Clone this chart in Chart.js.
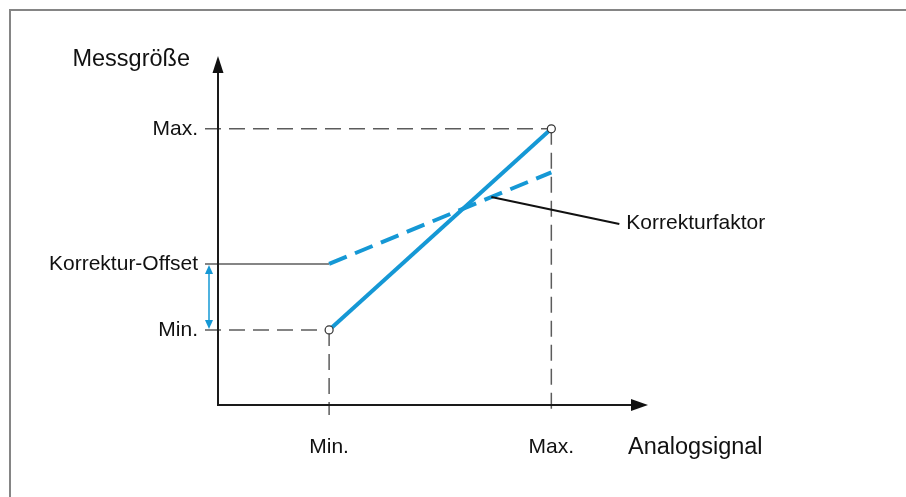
<!DOCTYPE html>
<html lang="de">
<head>
<meta charset="utf-8">
<title>Korrektur Analogsignal</title>
<script src="https://cdn.jsdelivr.net/npm/chart.js@4.4.1/dist/chart.umd.min.js"></script>
<style>
  html, body { margin: 0; padding: 0; background: #fff; }
  #wrap { position: relative; width: 906px; height: 497px; }
</style>
</head>
<body>
<div id="wrap"><canvas id="kennlinie"></canvas></div>
<script>
// Werte der Kennlinie (beliebige Einheiten)
const analogLabels = ['Min.', 'Max.'];
const analogValues = [1, 3];
const measuredValues = [1, 3.68];      // Kennlinie ohne Korrektur
const correctedValues = [1.88, 3.1];   // mit Korrektur-Offset und Korrekturfaktor
const yTickValues = [1, 1.88, 3.68];
const yTickLabels = ['Min.', 'Korrektur-Offset', 'Max.'];
const xRange = [0, 3.87];
const yRange = [0, 4.65];
const calloutAt = 2.46;                // Stelle auf der korrigierten Linie

const BLAU = '#1598d5';
const GRAU = '#5c5c5c';
const SCHRIFT = "'Liberation Sans', Arial, sans-serif";
const GROESSE = 21;
const TITEL_GROESSE = 23.5;

function linie(ctx, x1, y1, x2, y2, farbe, breite, dash) {
    ctx.save();
    ctx.strokeStyle = farbe;
    ctx.lineWidth = breite;
    ctx.setLineDash(dash || []);
    ctx.beginPath();
    ctx.moveTo(x1, y1);
    ctx.lineTo(x2, y2);
    ctx.stroke();
    ctx.restore();
}

function pfeilspitze(ctx, x, y, winkel, laenge, breite, farbe) {
    ctx.save();
    ctx.translate(x, y);
    ctx.rotate(winkel);
    ctx.fillStyle = farbe;
    ctx.beginPath();
    ctx.moveTo(0, 0);
    ctx.lineTo(-laenge, -breite);
    ctx.lineTo(-laenge, breite);
    ctx.closePath();
    ctx.fill();
    ctx.restore();
}

function text(ctx, str, x, y, align, size) {
    ctx.save();
    ctx.font = (size || GROESSE) + 'px ' + SCHRIFT;
    ctx.fillStyle = '#111';
    ctx.textAlign = align;
    ctx.textBaseline = 'middle';
    ctx.fillText(str, x, y);
    ctx.restore();
}

// Rahmen, Hilfslinien, Achsen mit Pfeilen und Beschriftungen
const diagrammPlugin = {
    id: 'diagramm',
    beforeDraw(chart) {
        const ctx = chart.ctx;
        ctx.save();
        ctx.strokeStyle = '#858585';
        ctx.lineWidth = 2;
        ctx.beginPath();
        ctx.moveTo(10, chart.height);
        ctx.lineTo(10, 10);
        ctx.lineTo(chart.width, 10);
        ctx.stroke();
        ctx.restore();
    },
    beforeDatasetsDraw(chart) {
        const { ctx, chartArea: a, scales: { x, y } } = chart;
        const xMin = x.getPixelForValue(analogValues[0]);
        const xMax = x.getPixelForValue(analogValues[1]);
        const yMin = y.getPixelForValue(measuredValues[0]);
        const yMax = y.getPixelForValue(measuredValues[1]);
        const yOff = y.getPixelForValue(correctedValues[0]);
        const links = a.left - 13;
        const unten = a.bottom + 10;

        linie(ctx, links, yMax, xMax, yMax, GRAU, 1.5, [16, 8]);
        linie(ctx, links, yMin, xMin, yMin, GRAU, 1.5, [16, 8]);
        linie(ctx, xMin, yMin, xMin, unten, GRAU, 1.5, [16, 8]);
        linie(ctx, xMax, yMax, xMax, unten, GRAU, 1.5, [16, 8]);
        linie(ctx, links, yOff, xMin, yOff, GRAU, 1.5);

        // Doppelpfeil für den Offset
        const px = a.left - 9;
        linie(ctx, px, yOff + 6, px, yMin - 6, BLAU, 1.5);
        pfeilspitze(ctx, px, yOff + 1, -Math.PI / 2, 9, 4, BLAU);
        pfeilspitze(ctx, px, yMin - 1, Math.PI / 2, 9, 4, BLAU);

        // Achsen
        linie(ctx, a.left, a.bottom + 1, a.left, a.top + 12, '#1a1a1a', 2);
        linie(ctx, a.left - 1, a.bottom, a.right - 12, a.bottom, '#1a1a1a', 2);
        pfeilspitze(ctx, a.left, a.top, -Math.PI / 2, 17, 5.5, '#111');
        pfeilspitze(ctx, a.right, a.bottom, 0, 17, 6, '#111');
    },
    afterDatasetsDraw(chart) {
        const { ctx, chartArea: a, scales: { x, y } } = chart;
        const t = (calloutAt - analogValues[0]) / (analogValues[1] - analogValues[0]);
        const cx = x.getPixelForValue(calloutAt);
        const cy = y.getPixelForValue(correctedValues[0] + t * (correctedValues[1] - correctedValues[0]));
        linie(ctx, cx, cy, cx + 128, cy + 27, '#111', 2);
        text(ctx, 'Korrekturfaktor', cx + 135, cy + 26, 'left');

        text(ctx, 'Messgröße', a.left - 28, a.top + 4, 'right', TITEL_GROESSE);
        text(ctx, 'Analogsignal', a.right - 20, a.bottom + 43, 'left', TITEL_GROESSE);
    }
};

function initKennlinie() {
    const el = document.getElementById('kennlinie');
    if (!el || typeof Chart === 'undefined') {
        console.error('Chart.js oder Canvas fehlt');
        return;
    }

    new Chart(el.getContext('2d'), {
        type: 'scatter',
        data: {
            datasets: [{
                data: analogValues.map((v, i) => ({ x: v, y: measuredValues[i] })),
                showLine: true,
                borderColor: BLAU,
                borderWidth: 4,
                pointRadius: 4,
                pointBackgroundColor: '#fff',
                pointBorderColor: '#333',
                pointBorderWidth: 1.2
            }, {
                data: analogValues.map((v, i) => ({ x: v, y: correctedValues[i] })),
                showLine: true,
                borderColor: BLAU,
                borderWidth: 4,
                borderDash: [19, 9],
                pointRadius: 0
            }]
        },
        options: {
            responsive: true,
            maintainAspectRatio: false,
            animation: false,
            layout: { padding: { left: 0, top: 56, right: 258, bottom: 0 } },
            plugins: { legend: { display: false }, tooltip: { enabled: false } },
            scales: {
                x: {
                    type: 'linear',
                    min: xRange[0],
                    max: xRange[1],
                    grid: { display: false, drawTicks: false },
                    border: { display: false },
                    afterBuildTicks: s => { s.ticks = analogValues.map(v => ({ value: v })); },
                    afterFit: s => { s.height = 92; },
                    ticks: {
                        autoSkip: false,
                        maxRotation: 0,
                        padding: 30,
                        color: '#111',
                        font: { family: SCHRIFT, size: GROESSE },
                        callback: (v, i) => analogLabels[i]
                    }
                },
                y: {
                    type: 'linear',
                    min: yRange[0],
                    max: yRange[1],
                    grid: { display: false, drawTicks: false },
                    border: { display: false },
                    afterBuildTicks: s => { s.ticks = yTickValues.map(v => ({ value: v })); },
                    afterFit: s => { s.width = 218; },
                    ticks: {
                        autoSkip: false,
                        padding: 20,
                        color: '#111',
                        font: { family: SCHRIFT, size: GROESSE },
                        callback: (v, i) => yTickLabels[i]
                    }
                }
            }
        },
        plugins: [diagrammPlugin]
    });
}

initKennlinie();
</script>
</body>
</html>
